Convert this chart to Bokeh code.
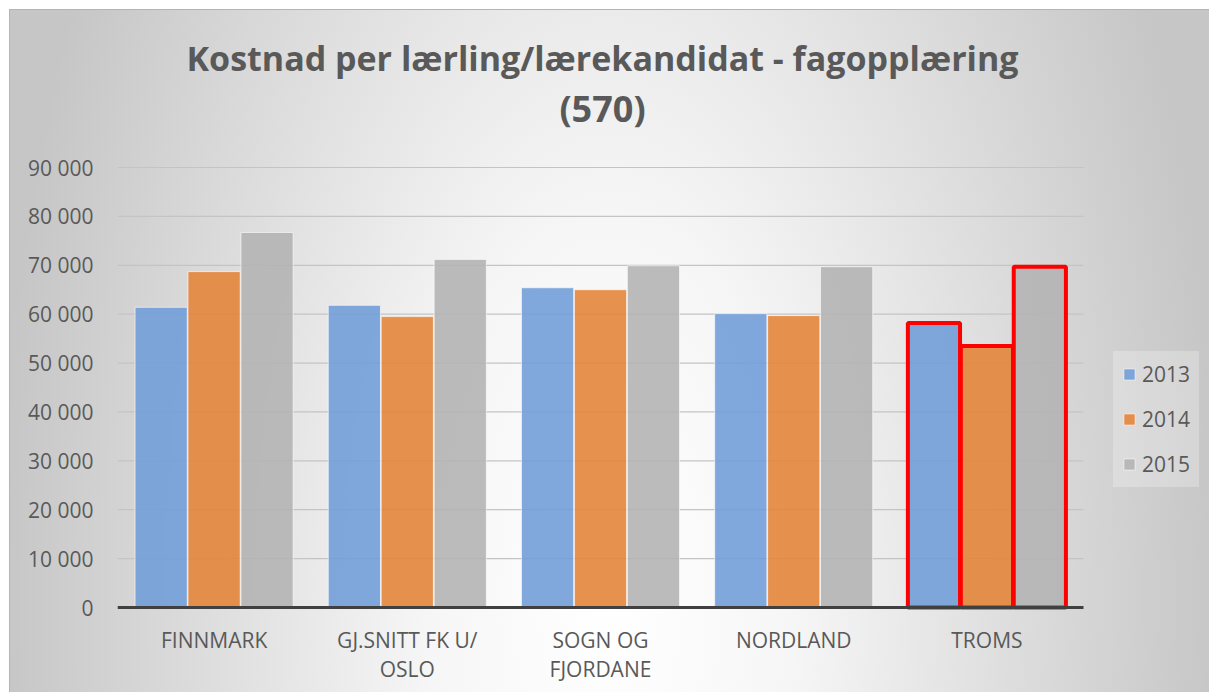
from bokeh.plotting import figure
from bokeh.models import (ColumnDataSource, Range1d, FixedTicker, Legend, LegendItem,
                          Label, LinearAxis)
from bokeh.transform import dodge
from bokeh.embed import file_html
from bokeh.resources import INLINE

# ---- data ----
categories = ["FINNMARK", "GJ.SNITT FK U/ OSLO", "SOGN OG FJORDANE", "NORDLAND", "TROMS"]
label_line1 = ["FINNMARK", "GJ.SNITT FK U/", "SOGN OG", "NORDLAND", "TROMS"]
label_line2 = ["", "OSLO", "FJORDANE", "", ""]
years = ["2013", "2014", "2015"]
v2013 = [61400, 61800, 65400, 60100, 58200]
v2014 = [68700, 59500, 65000, 59700, 53500]
v2015 = [76700, 71200, 69900, 69700, 69700]
highlight = ["TROMS"]
y_ticks = [0, 10000, 20000, 30000, 40000, 50000, 60000, 70000, 80000, 90000]
y_tick_labels = ["0", "10 000", "20 000", "30 000", "40 000", "50 000",
                 "60 000", "70 000", "80 000", "90 000"]
title_lines = ["Kostnad per lærling/lærekandidat - fagopplæring", "(570)"]

# ---- layout / styles ----
colors = ["#729ED8", "#E4853C", "#B4B4B4"]
offsets = [-0.274, 0.0, 0.274]
bar_w = 0.27
FONT = "Open Sans"
TXT = "#595959"
n = len(categories)
xpos = [i + 0.5 for i in range(n)]
PX_PER_UNIT_Y = 440.0 / 90000      # frame pixels per value unit
FRAME_H = 610
Y_TOP = 607 / PX_PER_UNIT_Y
Y_BOT = -(FRAME_H - 607) / PX_PER_UNIT_Y
X_END = (1209 - 117) / (966.0 / n)


def yv(screen_y):
    return Y_TOP - screen_y / PX_PER_UNIT_Y


src = ColumnDataSource(dict(x=xpos, cat=categories, y2013=v2013, y2014=v2014, y2015=v2015))
hi_idx = [i for i, c in enumerate(categories) if c in highlight]
hsrc = ColumnDataSource(dict(x=[xpos[i] for i in hi_idx],
                             y2013=[v2013[i] for i in hi_idx],
                             y2014=[v2014[i] for i in hi_idx],
                             y2015=[v2015[i] for i in hi_idx]))

p = figure(width=1209, height=692, x_range=Range1d(0, X_END), y_range=Range1d(Y_BOT, Y_TOP),
           output_backend="svg", toolbar_location=None,
           min_border_left=117, min_border_right=0, min_border_top=0, min_border_bottom=692 - FRAME_H)
p.title.visible = False
p.styles = {
    "background-color": "#ffffff",
    "background-image": ("radial-gradient(ellipse 610px 1270px at 600px 590px, #ffffff 0%, "
                         "#f6f6f6 30%, #c6c6c6 100%), linear-gradient(#b4b4b4, #b4b4b4)"),
    "background-position": "10px 10px, 9px 9px",
    "background-size": "1199px 682px, 1200px 683px",
    "background-repeat": "no-repeat",
}
p.background_fill_alpha = 0
p.border_fill_alpha = 0
p.outline_line_color = None
p.xgrid.grid_line_color = None
p.ygrid.grid_line_color = None

# horizontal gridlines (limited to the category area)
grid_y = y_ticks[1:]
p.segment(x0=[0] * len(grid_y), x1=[n] * len(grid_y), y0=grid_y, y1=grid_y,
          line_color="#c4c4c4", line_width=1.2, level="underlay")

renderers = []
for yr, col, off in zip(years, colors, offsets):
    r = p.vbar(x=dodge("x", off), top="y" + yr, width=bar_w, source=src,
               fill_color=col, fill_alpha=0.9, line_color="white", line_alpha=0.6, line_width=1)
    renderers.append(r)
    p.vbar(x=dodge("x", off), top="y" + yr, width=bar_w, source=hsrc,
           fill_color=None, line_color="#FF0000", line_width=4)

# baseline (category axis line)
p.segment(x0=[0], x1=[n], y0=[y_ticks[0]], y1=[y_ticks[0]], line_color="#404040", line_width=3)

# y axis
p.yaxis.ticker = FixedTicker(ticks=y_ticks)
p.yaxis.major_label_overrides = {t: l for t, l in zip(y_ticks, y_tick_labels)}
p.yaxis.axis_line_color = None
p.yaxis.major_tick_line_color = None
p.yaxis.minor_tick_line_color = None
p.yaxis.major_tick_out = 0
p.yaxis.major_tick_in = 0
p.yaxis.major_label_standoff = 24
p.yaxis.major_label_text_font = FONT
p.yaxis.major_label_text_font_size = "21px"
p.yaxis.major_label_text_color = TXT


def style_xaxis(ax, standoff):
    ax.axis_line_color = None
    ax.major_tick_line_color = None
    ax.minor_tick_line_color = None
    ax.major_tick_out = 0
    ax.major_tick_in = 0
    ax.major_label_standoff = standoff
    ax.major_label_text_font = FONT
    ax.major_label_text_font_size = "21px"
    ax.major_label_text_color = TXT
    ax.major_label_orientation = "horizontal"


xa = p.xaxis[0]
xa.ticker = FixedTicker(ticks=xpos)
xa.major_label_overrides = {x: l for x, l in zip(xpos, label_line1)}
style_xaxis(xa, 15)

xa2_ticks = [x for x, l in zip(xpos, label_line2) if l]
xa2 = LinearAxis(ticker=FixedTicker(ticks=xa2_ticks),
                 major_label_overrides={x: l for x, l in zip(xpos, label_line2) if l})
style_xaxis(xa2, -2)
p.add_layout(xa2, "below")

# title
for txt, sy, fs in zip(title_lines, [57, 108], ["34px", "36px"]):
    p.add_layout(Label(x=n / 2 + 2 / (966.0 / n), y=yv(sy), text=txt, text_align="center",
                       text_baseline="middle", text_font=FONT, text_font_style="bold",
                       text_font_size=fs, text_color=TXT))

legend = Legend(items=[LegendItem(label=yr, renderers=[r]) for yr, r in zip(years, renderers)],
                location=(1113 - 117, FRAME_H - 487), orientation="vertical")
legend.label_text_font = FONT
legend.label_text_font_size = "21px"
legend.label_text_color = TXT
legend.glyph_width = 14
legend.glyph_height = 14
legend.label_height = 20
legend.spacing = 17
legend.padding = 9
legend.margin = 0
legend.label_standoff = 6
legend.background_fill_color = "#ffffff"
legend.background_fill_alpha = 0.25
legend.border_line_alpha = 0
p.add_layout(legend)

open("out.html", "w").write(file_html(p, INLINE))
